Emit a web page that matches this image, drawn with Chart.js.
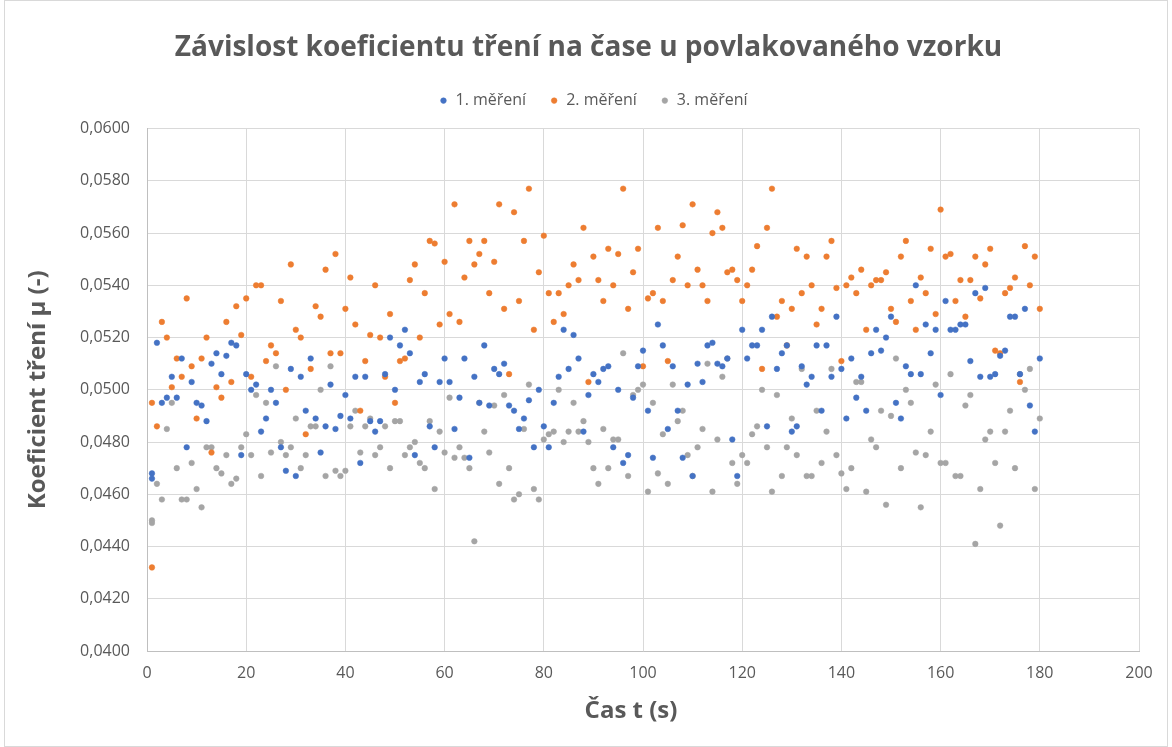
<!DOCTYPE html>
<html lang="cs">
<head>
<meta charset="utf-8">
<title>Závislost koeficientu tření na čase</title>
<script src="https://cdn.jsdelivr.net/npm/chart.js@4.4.1/dist/chart.umd.min.js"></script>
<style>
  html, body { margin: 0; padding: 0; background: #fff; }
  #wrap { width: 1172px; height: 747px; }
</style>
</head>
<body>
<div id="wrap"><canvas id="graf" width="1172" height="747"></canvas></div>
<script>
// cas mereni (s) - prvni cas je v datech dvakrat
const casy = [1, 1, 2, 3, 4, 5, 6, 7, 8, 9, 10, 11, 12, 13, 14, 15, 16, 17, 18, 19, 20,
  21, 22, 23, 24, 25, 26, 27, 28, 29, 30, 31, 32, 33, 34, 35, 36, 37, 38, 39, 40,
  41, 42, 43, 44, 45, 46, 47, 48, 49, 50, 51, 52, 53, 54, 55, 56, 57, 58, 59, 60,
  61, 62, 63, 64, 65, 66, 67, 68, 69, 70, 71, 72, 73, 74, 75, 76, 77, 78, 79, 80,
  81, 82, 83, 84, 85, 86, 87, 88, 89, 90, 91, 92, 93, 94, 95, 96, 97, 98, 99, 100,
  101, 102, 103, 104, 105, 106, 107, 108, 109, 110, 111, 112, 113, 114, 115, 116, 117, 118, 119, 120,
  121, 122, 123, 124, 125, 126, 127, 128, 129, 130, 131, 132, 133, 134, 135, 136, 137, 138, 139, 140,
  141, 142, 143, 144, 145, 146, 147, 148, 149, 150, 151, 152, 153, 154, 155, 156, 157, 158, 159, 160,
  161, 162, 163, 164, 165, 166, 167, 168, 169, 170, 171, 172, 173, 174, 175, 176, 177, 178, 179, 180];

const mereni1 = [0.0468, 0.0466, 0.0518, 0.0495, 0.0497, 0.0505, 0.0497, 0.0512, 0.0478, 0.0503, 0.0495,
  0.0494, 0.0488, 0.0510, 0.0514, 0.0506, 0.0513, 0.0518, 0.0517, 0.0475, 0.0506,
  0.0500, 0.0502, 0.0484, 0.0489, 0.0500, 0.0495, 0.0478, 0.0469, 0.0508, 0.0467,
  0.0505, 0.0492, 0.0512, 0.0489, 0.0476, 0.0486, 0.0502, 0.0485, 0.0490, 0.0498,
  0.0489, 0.0505, 0.0472, 0.0505, 0.0488, 0.0484, 0.0488, 0.0506, 0.0520, 0.0500,
  0.0517, 0.0523, 0.0514, 0.0475, 0.0503, 0.0506, 0.0486, 0.0478, 0.0503, 0.0512,
  0.0503, 0.0485, 0.0497, 0.0512, 0.0474, 0.0505, 0.0495, 0.0517, 0.0494, 0.0508,
  0.0506, 0.0510, 0.0494, 0.0492, 0.0485, 0.0489, 0.0496, 0.0478, 0.0500, 0.0486,
  0.0478, 0.0495, 0.0505, 0.0523, 0.0508, 0.0521, 0.0512, 0.0484, 0.0498, 0.0506,
  0.0503, 0.0508, 0.0509, 0.0478, 0.0500, 0.0472, 0.0475, 0.0497, 0.0509, 0.0515,
  0.0492, 0.0474, 0.0525, 0.0517, 0.0485, 0.0509, 0.0492, 0.0474, 0.0502, 0.0467,
  0.0510, 0.0503, 0.0517, 0.0518, 0.0510, 0.0509, 0.0512, 0.0481, 0.0467, 0.0523,
  0.0512, 0.0517, 0.0517, 0.0523, 0.0486, 0.0528, 0.0508, 0.0514, 0.0517, 0.0484,
  0.0486, 0.0509, 0.0502, 0.0505, 0.0517, 0.0492, 0.0517, 0.0505, 0.0528, 0.0508,
  0.0489, 0.0512, 0.0497, 0.0505, 0.0492, 0.0514, 0.0523, 0.0515, 0.0520, 0.0528,
  0.0495, 0.0489, 0.0509, 0.0506, 0.0540, 0.0506, 0.0525, 0.0514, 0.0523, 0.0498,
  0.0534, 0.0523, 0.0523, 0.0525, 0.0525, 0.0511, 0.0537, 0.0505, 0.0539, 0.0505,
  0.0506, 0.0513, 0.0515, 0.0528, 0.0528, 0.0506, 0.0531, 0.0494, 0.0484, 0.0512];

const mereni2 = [0.0495, 0.0432, 0.0486, 0.0526, 0.0520, 0.0501, 0.0512, 0.0505, 0.0535, 0.0509, 0.0489,
  0.0512, 0.0520, 0.0476, 0.0501, 0.0497, 0.0526, 0.0503, 0.0532, 0.0521, 0.0535,
  0.0505, 0.0540, 0.0540, 0.0511, 0.0517, 0.0514, 0.0534, 0.0500, 0.0548, 0.0523,
  0.0520, 0.0483, 0.0508, 0.0532, 0.0528, 0.0546, 0.0514, 0.0552, 0.0514, 0.0531,
  0.0543, 0.0525, 0.0492, 0.0511, 0.0521, 0.0540, 0.0520, 0.0505, 0.0529, 0.0495,
  0.0511, 0.0512, 0.0542, 0.0548, 0.0520, 0.0537, 0.0557, 0.0556, 0.0525, 0.0549,
  0.0529, 0.0571, 0.0526, 0.0543, 0.0557, 0.0548, 0.0552, 0.0557, 0.0537, 0.0549,
  0.0571, 0.0531, 0.0506, 0.0568, 0.0534, 0.0557, 0.0577, 0.0523, 0.0545, 0.0559,
  0.0537, 0.0526, 0.0537, 0.0529, 0.0540, 0.0548, 0.0542, 0.0562, 0.0503, 0.0551,
  0.0542, 0.0534, 0.0554, 0.0540, 0.0552, 0.0577, 0.0531, 0.0545, 0.0554, 0.0509,
  0.0535, 0.0537, 0.0562, 0.0534, 0.0511, 0.0542, 0.0551, 0.0563, 0.0540, 0.0571,
  0.0546, 0.0540, 0.0534, 0.0560, 0.0568, 0.0562, 0.0545, 0.0546, 0.0542, 0.0534,
  0.0540, 0.0546, 0.0555, 0.0508, 0.0562, 0.0577, 0.0528, 0.0534, 0.0517, 0.0531,
  0.0554, 0.0537, 0.0551, 0.0540, 0.0525, 0.0531, 0.0551, 0.0557, 0.0539, 0.0511,
  0.0540, 0.0543, 0.0537, 0.0546, 0.0523, 0.0540, 0.0542, 0.0542, 0.0545, 0.0531,
  0.0526, 0.0551, 0.0557, 0.0534, 0.0523, 0.0543, 0.0537, 0.0554, 0.0529, 0.0569,
  0.0551, 0.0552, 0.0534, 0.0542, 0.0528, 0.0542, 0.0551, 0.0535, 0.0548, 0.0554,
  0.0515, 0.0514, 0.0537, 0.0539, 0.0543, 0.0503, 0.0555, 0.0540, 0.0551, 0.0531];

const mereni3 = [0.0450, 0.0449, 0.0464, 0.0458, 0.0485, 0.0495, 0.0470, 0.0458, 0.0458, 0.0472, 0.0462,
  0.0455, 0.0478, 0.0478, 0.0470, 0.0468, 0.0475, 0.0464, 0.0466, 0.0478, 0.0483,
  0.0475, 0.0498, 0.0467, 0.0495, 0.0476, 0.0509, 0.0480, 0.0475, 0.0478, 0.0489,
  0.0470, 0.0475, 0.0486, 0.0486, 0.0500, 0.0467, 0.0509, 0.0469, 0.0467, 0.0469,
  0.0486, 0.0492, 0.0476, 0.0486, 0.0489, 0.0475, 0.0478, 0.0486, 0.0470, 0.0488,
  0.0488, 0.0475, 0.0478, 0.0480, 0.0472, 0.0470, 0.0488, 0.0462, 0.0484, 0.0476,
  0.0497, 0.0474, 0.0478, 0.0474, 0.0470, 0.0442, 0.0495, 0.0484, 0.0476, 0.0494,
  0.0464, 0.0498, 0.0470, 0.0458, 0.0460, 0.0485, 0.0502, 0.0462, 0.0458, 0.0481,
  0.0483, 0.0484, 0.0500, 0.0480, 0.0484, 0.0495, 0.0484, 0.0488, 0.0480, 0.0470,
  0.0464, 0.0485, 0.0470, 0.0481, 0.0481, 0.0514, 0.0467, 0.0498, 0.0500, 0.0502,
  0.0461, 0.0495, 0.0468, 0.0483, 0.0464, 0.0502, 0.0488, 0.0492, 0.0475, 0.0467,
  0.0478, 0.0485, 0.0510, 0.0461, 0.0481, 0.0505, 0.0512, 0.0472, 0.0464, 0.0475,
  0.0472, 0.0483, 0.0486, 0.0500, 0.0478, 0.0461, 0.0498, 0.0467, 0.0478, 0.0489,
  0.0475, 0.0508, 0.0467, 0.0467, 0.0492, 0.0472, 0.0484, 0.0508, 0.0475, 0.0468,
  0.0462, 0.0470, 0.0503, 0.0503, 0.0461, 0.0481, 0.0478, 0.0492, 0.0456, 0.0490,
  0.0512, 0.0470, 0.0500, 0.0495, 0.0476, 0.0455, 0.0475, 0.0484, 0.0502, 0.0472,
  0.0472, 0.0506, 0.0467, 0.0467, 0.0494, 0.0498, 0.0441, 0.0462, 0.0481, 0.0484,
  0.0472, 0.0448, 0.0484, 0.0492, 0.0470, 0.0506, 0.0500, 0.0508, 0.0462, 0.0489];

const nazvy = ['1. měření', '2. měření', '3. měření'];
const barvy = ['#4472C4', '#ED7D31', '#A5A5A5'];

const body = (hodnoty) => hodnoty.map((v, i) => ({ x: casy[i], y: v }));

const sedaText = '#595959';
const mrizka = '#d9d9d9';
const pismo = "'Open Sans', 'Noto Sans', sans-serif";

// posune vykresleni prvku o dx (jen jednou)
const posun = (obj, metoda, dx) => {
  if (!obj || obj['_posun_' + metoda]) return;
  const orig = obj[metoda];
  obj[metoda] = function (...args) {
    this.ctx.save();
    this.ctx.translate(dx, 0);
    orig.apply(this, args);
    this.ctx.restore();
  };
  obj['_posun_' + metoda] = true;
};

// ramecek kolem celeho grafu, misto pod legendou, posuny popisku
const ramecek = {
  id: 'ramecek',
  beforeInit(chart) {
    const fit = chart.legend.fit;
    chart.legend.fit = function () {
      fit.call(this);
      this.height += 10;
    };
  },
  afterLayout(chart) {
    posun(chart.titleBlock, 'draw', 14);
    posun(chart.legend, 'draw', 19);
    posun(chart.scales.x, 'drawTitle', -12);
  },
  afterDraw(chart) {
    const ctx = chart.ctx;
    ctx.save();
    ctx.strokeStyle = '#d9d9d9';
    ctx.lineWidth = 1;
    ctx.strokeRect(4.5, 0.5, chart.width - 9, chart.height - 1);
    ctx.restore();
  }
};

new Chart(document.getElementById('graf'), {
  type: 'scatter',
  data: {
    datasets: [mereni1, mereni2, mereni3].map((d, i) => ({
      label: nazvy[i],
      data: body(d),
      backgroundColor: barvy[i],
      borderColor: barvy[i],
      borderWidth: 0.5,
      pointRadius: 2.8,
      pointHoverRadius: 2.8,
    })),
  },
  options: {
    responsive: false,
    animation: false,
    layout: { padding: { left: 10, right: 33, top: 0, bottom: 0 } },
    plugins: {
      title: {
        display: true,
        text: 'Závislost koeficientu tření na čase u povlakovaného vzorku',
        color: sedaText,
        font: { family: pismo, size: 28, weight: 'bold' },
        padding: { top: 31, bottom: 4 },
      },
      legend: {
        labels: {
          usePointStyle: true,
          pointStyle: 'circle',
          boxWidth: 8,
          boxHeight: 4,
          padding: 24,
          color: sedaText,
          font: { family: pismo, size: 16 },
        },
      },
      tooltip: { enabled: false },
    },
    scales: {
      x: {
        type: 'linear',
        min: 0,
        max: 200,
        ticks: {
          stepSize: 20,
          color: sedaText,
          padding: 13,
          font: { family: pismo, size: 16 },
        },
        grid: { color: mrizka, drawTicks: false },
        border: { color: '#bfbfbf' },
        title: {
          display: true,
          text: 'Čas t (s)',
          color: sedaText,
          font: { family: pismo, size: 24, weight: 'bold' },
          padding: { top: 0, bottom: 21 },
        },
        afterFit(scale) { scale.height = 96; },
      },
      y: {
        min: 0.04,
        max: 0.06,
        ticks: {
          stepSize: 0.002,
          color: sedaText,
          padding: 17,
          font: { family: pismo, size: 16 },
          callback: (v) => v.toFixed(4).replace('.', ','),
        },
        grid: { color: mrizka, drawTicks: false },
        border: { color: '#bfbfbf' },
        title: {
          display: true,
          text: 'Koeficient tření µ (-)',
          color: sedaText,
          font: { family: pismo, size: 24, weight: 'bold' },
          padding: { top: 14, bottom: 0 },
        },
        afterFit(scale) { scale.width = 137; },
      },
    },
  },
  plugins: [ramecek],
});
</script>
</body>
</html>
